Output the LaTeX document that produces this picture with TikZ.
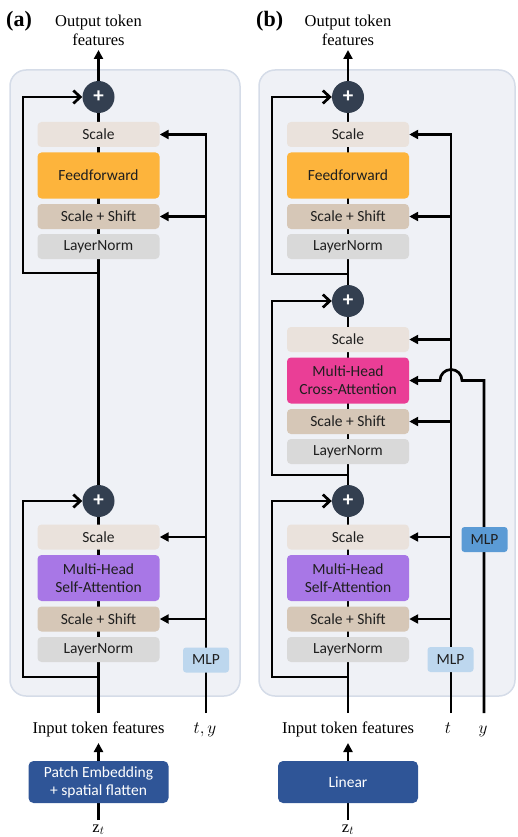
\documentclass[tikz,border=0pt]{standalone}
\usepackage{fontspec}
\setmainfont{Liberation Serif}
\newfontfamily\boxfont{Carlito}
\usetikzlibrary{arrows.meta,calc}
\definecolor{panelbg}{HTML}{EFF1F6}
\definecolor{panelbd}{HTML}{D5DCE8}
\definecolor{scalec}{HTML}{EAE2DC}
\definecolor{ffc}{HTML}{FDB43C}
\definecolor{ssc}{HTML}{D6C7B7}
\definecolor{lnc}{HTML}{D9D9D9}
\definecolor{mhsac}{HTML}{A877E6}
\definecolor{mhcac}{HTML}{EA3E96}
\definecolor{plusc}{HTML}{333F50}
\definecolor{mlplc}{HTML}{BDD7EE}
\definecolor{mlpdc}{HTML}{5B9BD5}
\definecolor{embc}{HTML}{2F5597}
\pgfdeclarelayer{bg}\pgfdeclarelayer{lines}\pgfsetlayers{bg,lines,main}
\begin{document}
\begin{tikzpicture}[x=1pt,y=1pt,
 blk/.style={rectangle, rounded corners=4pt, minimum width=122pt, inner sep=0pt, align=center, text=black!88, font=\boxfont\fontsize{15.5}{18}\selectfont},
 sm/.style={blk, minimum height=25pt},
 tall/.style={blk, minimum height=46pt},
 pls/.style={circle, fill=plusc, minimum size=32pt, inner sep=0pt, text=white, font=\boxfont\bfseries\fontsize{21}{21}\selectfont},
 mlp/.style={rectangle, rounded corners=3pt, minimum width=46pt, minimum height=25pt, inner sep=0pt, font=\boxfont\fontsize{15.5}{18}\selectfont, text=black!88},
 emb/.style={rectangle, rounded corners=5pt, fill=embc, minimum width=140pt, minimum height=42pt, inner sep=0pt, align=center, text=white, font=\boxfont\fontsize{15.5}{18}\selectfont},
 lbl/.style={font=\fontsize{16.5}{19}\selectfont, align=center, inner sep=0pt},
 panlab/.style={font=\bfseries\fontsize{22}{22}\selectfont, anchor=base west, inner sep=0pt},
 ln/.style={line width=2.7pt},
 tri/.style={ln, -{Triangle[length=9pt,width=9pt]}},
 vee/.style={ln, -{Straight Barb[length=7pt,width=13pt]}},
 panel/.style={fill=panelbg, draw=panelbd, line width=1.5pt, rounded corners=16pt},
]
\useasboundingbox (0,0) rectangle (517,-837);
\begin{pgfonlayer}{bg}
\draw[panel] (10,-70) rectangle (240,-696);
\draw[panel] (259,-70) rectangle (515,-696);
\end{pgfonlayer}

% ---------------- panel (a) ----------------
\node[panlab] (alab) at (6,-27) {(a)};
\node[lbl] (aout) at (98.5,-30) {Output token\\features};
\node[pls] (ap1) at (98.5,-97) {+};
\node[sm, fill=scalec] (as1) at (98.5,-134.5) {Scale};
\node[tall, fill=ffc] (aff) at (98.5,-175.5) {Feedforward};
\node[sm, fill=ssc] (ass1) at (98.5,-216.5) {Scale + Shift};
\node[sm, fill=lnc] (aln1) at (98.5,-246.5) {LayerNorm};
\node[pls] (ap2) at (98.5,-501) {+};
\node[sm, fill=scalec] (as2) at (98.5,-537) {Scale};
\node[tall, fill=mhsac] (amh) at (98.5,-578) {Multi-Head\\Self-Attention};
\node[sm, fill=ssc] (ass2) at (98.5,-619) {Scale + Shift};
\node[sm, fill=lnc] (aln2) at (98.5,-649.5) {LayerNorm};
\node[mlp, fill=mlplc] (amlp) at (206,-660) {MLP};
\node[lbl, anchor=base] (ain) at (98.5,-733) {Input token features};
\node[lbl, anchor=base] (aty) at (205,-733) {$t, y$};
\node[emb] (apatch) at (98.5,-782) {Patch Embedding\\+ spatial flatten};
\node[lbl, anchor=base] (az) at (98.5,-832) {$\mathrm{z}_t$};

\coordinate (aintop) at (98.5,-713);
\coordinate (aouttip) at (98.5,-50);
\coordinate (aintip) at (98.5,-743);
\coordinate (azt) at (98.5,-820);
\coordinate (atyend) at (206,-713);
\coordinate (ar1) at (98.5,-273);
\coordinate (ar2) at (98.5,-677);
\coordinate (aloop) at (23,0);
\coordinate (arx) at (206,0);

% ---------------- panel (b) ----------------
\node[panlab] (blab) at (256,-27) {(b)};
\node[lbl] (bout) at (348,-30) {Output token\\features};
\node[pls] (bp1) at (348,-97) {+};
\node[sm, fill=scalec] (bs1) at (348,-134.5) {Scale};
\node[tall, fill=ffc] (bff) at (348,-175.5) {Feedforward};
\node[sm, fill=ssc] (bss1) at (348,-216.5) {Scale + Shift};
\node[sm, fill=lnc] (bln1) at (348,-246.5) {LayerNorm};
\node[pls] (bp2) at (348,-301) {+};
\node[sm, fill=scalec] (bs2) at (348,-339.5) {Scale};
\node[tall, fill=mhcac] (bmc) at (348,-380.5) {Multi-Head\\Cross-Attention};
\node[sm, fill=ssc] (bss2) at (348,-421.5) {Scale + Shift};
\node[sm, fill=lnc] (bln2) at (348,-451.5) {LayerNorm};
\node[pls] (bp3) at (348,-501) {+};
\node[sm, fill=scalec] (bs3) at (348,-537) {Scale};
\node[tall, fill=mhsac] (bmh) at (348,-578) {Multi-Head\\Self-Attention};
\node[sm, fill=ssc] (bss3) at (348,-619) {Scale + Shift};
\node[sm, fill=lnc] (bln3) at (348,-649.5) {LayerNorm};
\node[mlp, fill=mlplc] (bmlp1) at (450.5,-659.5) {MLP};
\node[mlp, fill=mlpdc] (bmlp2) at (484.5,-539.5) {MLP};
\node[lbl, anchor=base] (bin) at (348,-733) {Input token features};
\node[lbl, anchor=base] (bt) at (448,-733) {$t$};
\node[lbl, anchor=base] (by) at (483,-733) {$y$};
\node[emb] (blin) at (348,-782) {Linear};
\node[lbl, anchor=base] (bz) at (348,-832) {$\mathrm{z}_t$};

\coordinate (bintop) at (348,-713);
\coordinate (bouttip) at (348,-50);
\coordinate (bintip) at (348,-743);
\coordinate (bzt) at (348,-820);
\coordinate (btend) at (451,-713);
\coordinate (byend) at (484,-713);
\coordinate (br1) at (348,-274);
\coordinate (br2) at (348,-475);
\coordinate (br3) at (348,-677);
\coordinate (bloop) at (272,0);
\coordinate (btx) at (451,0);
\coordinate (bhop) at (462,-380.5);

\begin{pgfonlayer}{lines}
% (a)
\draw[ln] (aintop) -- (ap1.center);
\draw[tri] (ap1.north) -- (aouttip);
\draw[vee] (ar1) -- (ar1 -| aloop) |- (ap1.west);
\draw[vee] (ar2) -- (ar2 -| aloop) |- (ap2.west);
\draw[tri] (atyend) |- (as1.east);
\draw[tri] (arx |- ass1) -- (ass1.east);
\draw[tri] (arx |- as2) -- (as2.east);
\draw[tri] (arx |- ass2) -- (ass2.east);
\draw[tri] (apatch.north) -- (aintip);
\draw[ln] (azt) -- (apatch.south);
% (b)
\draw[ln] (bintop) -- (bp1.center);
\draw[tri] (bp1.north) -- (bouttip);
\draw[vee] (br1) -- (br1 -| bloop) |- (bp1.west);
\draw[vee] (br2) -- (br2 -| bloop) |- (bp2.west);
\draw[vee] (br3) -- (br3 -| bloop) |- (bp3.west);
\draw[tri] (btend) |- (bs1.east);
\draw[tri] (btx |- bss1) -- (bss1.east);
\draw[tri] (btx |- bs2) -- (bs2.east);
\draw[tri] (btx |- bss2) -- (bss2.east);
\draw[tri] (btx |- bs3) -- (bs3.east);
\draw[tri] (btx |- bss3) -- (bss3.east);
\draw[tri] (byend) |- (bhop) arc[start angle=0, end angle=180, radius=11] -- (bmc.east);
\draw[tri] (blin.north) -- (bintip);
\draw[ln] (bzt) -- (blin.south);
\end{pgfonlayer}
\end{tikzpicture}
\end{document}
